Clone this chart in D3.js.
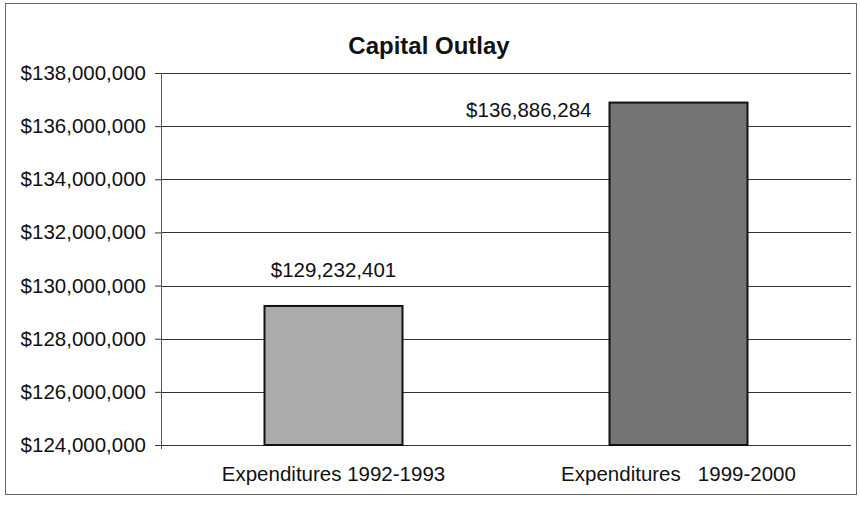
<!DOCTYPE html>
<html>
<head>
<meta charset="utf-8">
<script src="https://cdn.jsdelivr.net/npm/d3@7"></script>
<style>
  body { margin: 0; background: #fff; }
  svg { font-family: "Liberation Sans", Arial, sans-serif; }
</style>
</head>
<body>
<svg width="860" height="507"></svg>
<script>
// chart data
var categories = ["Expenditures 1992-1993", "Expenditures   1999-2000"];
var values = [129232401, 136886284];
var valueLabels = ["$129,232,401", "$136,886,284"];
var yTicks = [124000000, 126000000, 128000000, 130000000, 132000000, 134000000, 136000000, 138000000];
var barColors = ["#ababab", "#757575"];

var svg = d3.select("svg");

// outer frame
svg.append("rect")
   .attr("x", 5.5).attr("y", 3.5)
   .attr("width", 851).attr("height", 491)
   .attr("fill", "none")
   .attr("stroke", "#666")
   .attr("stroke-width", 1);

var plotLeft = 161, plotRight = 851, plotTop = 73, plotBottom = 445;
var fontSize = "20.5px";

var x = d3.scaleBand()
    .domain(categories)
    .range([plotLeft, plotRight])
    .paddingInner(0.6)
    .paddingOuter(0.3);

var y = d3.scaleLinear()
    .domain([124000000, 138000000])
    .range([plotBottom, plotTop]);

// title
svg.append("text")
   .attr("x", 429).attr("y", 54)
   .attr("text-anchor", "middle")
   .attr("font-size", "24px")
   .attr("font-weight", "bold")
   .attr("fill", "#111")
   .text("Capital Outlay");

// gridlines
svg.append("g")
   .selectAll("line")
   .data(yTicks)
   .enter().append("line")
   .attr("x1", plotLeft).attr("x2", plotRight)
   .attr("y1", function(d) { return Math.round(y(d)) + 0.5; })
   .attr("y2", function(d) { return Math.round(y(d)) + 0.5; })
   .attr("stroke", "#333")
   .attr("stroke-width", 1);

// y axis
var yAxis = svg.append("g")
   .attr("transform", "translate(" + plotLeft + ",0)")
   .call(d3.axisLeft(y)
       .tickValues(yTicks)
       .tickSize(6)
       .tickPadding(9)
       .tickFormat(function(d) { return "$" + d3.format(",")(d); }));
yAxis.select(".domain").attr("stroke", "#555").attr("d", "M0.5," + plotTop + "V" + (plotBottom + 4));
yAxis.selectAll(".tick line").attr("stroke", "#333");
yAxis.selectAll(".tick text")
   .attr("font-size", fontSize)
   .attr("font-family", "Liberation Sans, Arial, sans-serif")
   .attr("fill", "#111");

// bars
svg.append("g")
   .selectAll("rect")
   .data(values)
   .enter().append("rect")
   .attr("x", function(d, i) { return x(categories[i]); })
   .attr("y", function(d) { return y(d); })
   .attr("width", x.bandwidth())
   .attr("height", function(d) { return y(124000000) - y(d); })
   .attr("fill", function(d, i) { return barColors[i]; })
   .attr("stroke", "#111")
   .attr("stroke-width", 2);

// value labels
svg.append("text")
   .attr("x", x(categories[0]) + x.bandwidth() / 2)
   .attr("y", y(values[0]) - 29)
   .attr("text-anchor", "middle")
   .attr("font-size", fontSize)
   .attr("fill", "#111")
   .text(valueLabels[0]);

svg.append("text")
   .attr("x", x(categories[1]) - 18)
   .attr("y", y(values[1]) + 14)
   .attr("text-anchor", "end")
   .attr("font-size", fontSize)
   .attr("fill", "#111")
   .text(valueLabels[1]);

// category labels
svg.append("g")
   .selectAll("text")
   .data(categories)
   .enter().append("text")
   .attr("x", function(d) { return x(d) + x.bandwidth() / 2; })
   .attr("y", 481)
   .attr("text-anchor", "middle")
   .attr("font-size", fontSize)
   .attr("fill", "#111")
   .style("white-space", "pre")
   .text(function(d) { return d; });
</script>
</body>
</html>
